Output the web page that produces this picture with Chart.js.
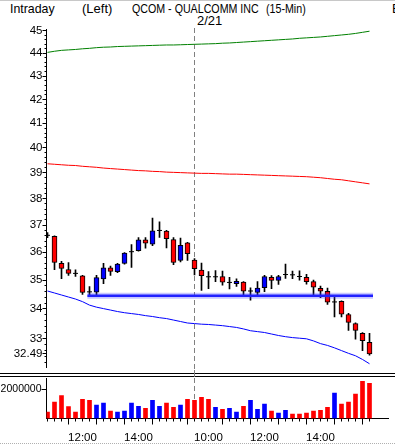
<!DOCTYPE html>
<html>
<head>
<meta charset="utf-8">
<script src="https://cdn.jsdelivr.net/npm/chart.js@4/dist/chart.umd.min.js"></script>
<style>
  body { margin: 0; background: #fff; width: 395px; height: 445px; overflow: hidden; position: relative;
         font-family: "Liberation Sans", sans-serif; }
  .txt { position: absolute; font-size: 13px; line-height: 15px; white-space: pre; color: #000; transform-origin: 0 0; }
  .sep { position: absolute; left: 0; width: 395px; border-top: 1px solid #000; }
  canvas { position: absolute; left: 0; }
</style>
</head>
<body>
<div class="sep" style="top:0;border-top-color:#c8c8c8"></div>
<div class="txt" style="left:10px;top:1px;transform:scaleX(0.95)">Intraday</div>
<div class="txt" style="left:82px;top:1px">(Left)</div>
<div class="txt" style="left:132px;top:1px;transform:scaleX(0.82)">QCOM - QUALCOMM INC</div>
<div class="txt" style="left:266px;top:1px;transform:scaleX(0.82)">(15-Min)</div>
<div class="txt" style="left:392px;top:1px">E</div>
<div class="txt" style="left:197px;top:13px">2/21</div>
<div class="sep" style="top:373px"></div>
<div class="sep" style="top:376px"></div>
<div class="sep" style="top:443px;border-top:1px dotted #b0b0b0"></div>
<canvas id="priceChart" width="395" height="380" style="top:0;width:395px;height:380px"></canvas>
<canvas id="volumeChart" width="395" height="75" style="top:370px;width:395px;height:75px"></canvas>
<script>
// 15 minute bars, 2/20 10:45 .. 2/21 15:45
const times = [
  '10:45', '11:00', '11:15', '11:30', '11:45', '12:00', '12:15', '12:30', '12:45', '13:00', '13:15',
  '13:30', '13:45', '14:00', '14:15', '14:30', '14:45', '15:00', '15:15', '15:30', '15:45',
  '9:30', '9:45', '10:00', '10:15', '10:30', '10:45', '11:00', '11:15', '11:30', '11:45', '12:00',
  '12:15', '12:30', '12:45', '13:00', '13:15', '13:30', '13:45', '14:00', '14:15', '14:30', '14:45',
  '15:00', '15:15', '15:30', '15:45'
];
const opens = [
  36.63, 36.58, 35.60, 35.38, 35.25, 35.15, 34.60, 34.58, 35.04, 35.44, 35.30, 35.60, 36.00, 36.06,
  36.45, 36.29, 36.79, 36.78, 36.46, 35.70, 36.34,
  35.72, 35.36, 35.13, 35.11, 35.13, 34.91, 34.88, 34.93, 34.61, 34.57, 34.74, 35.10, 34.99, 35.19,
  35.20, 35.14, 35.10, 34.95, 34.71, 34.61, 34.22, 34.26, 33.81, 33.50, 33.17, 32.87
];
const highs = [
  36.72, 36.60, 35.67, 35.63, 35.37, 35.17, 34.77, 35.17, 35.60, 35.50, 35.60, 35.99, 36.28, 36.54,
  36.54, 37.26, 37.12, 36.80, 36.54, 36.52, 36.36,
  35.77, 35.61, 35.30, 35.34, 35.32, 35.10, 35.05, 34.95, 34.73, 34.95, 35.17, 35.16, 35.17, 35.57,
  35.32, 35.33, 35.21, 35.00, 34.79, 34.72, 34.40, 34.28, 33.85, 33.53, 33.20, 33.17
];
const lows = [
  36.53, 35.37, 35.05, 35.17, 35.13, 34.50, 34.45, 34.48, 34.88, 35.17, 35.27, 35.57, 35.45, 36.04,
  36.15, 36.24, 36.54, 36.16, 35.55, 35.65, 35.70,
  35.19, 34.64, 34.70, 34.95, 34.82, 34.69, 34.78, 34.46, 34.30, 34.45, 34.60, 34.70, 34.85, 35.06,
  35.05, 35.00, 34.86, 34.48, 34.39, 34.15, 33.73, 33.73, 33.27, 32.98, 32.60, 32.45
];
const closes = [
  36.62, 35.63, 35.42, 35.24, 35.24, 34.57, 34.59, 35.09, 35.44, 35.31, 35.57, 35.97, 36.02, 36.45,
  36.33, 36.79, 36.80, 36.50, 35.63, 36.25, 35.95,
  35.41, 35.16, 35.12, 35.12, 34.93, 34.92, 34.96, 34.61, 34.62, 34.72, 35.13, 34.99, 35.13, 35.20,
  35.19, 35.13, 34.95, 34.75, 34.61, 34.23, 34.24, 33.82, 33.54, 33.27, 32.93, 32.49
];
const volumes = [
  440000, 1130000, 1590000, 830000, 440000, 1330000, 1260000, 920000, 1060000, 510000, 440000,
  510000, 1060000, 850000, 710000, 1260000, 850000, 1060000, 780000, 920000, 1330000,
  1260000, 1470000, 1330000, 780000, 640000, 710000, 440000, 850000, 1260000, 640000, 990000,
  510000, 370000, 570000, 300000, 300000, 370000, 510000, 570000, 780000, 1750000, 990000,
  1130000, 1680000, 2570000, 2440000
];
// green, red and blue study lines
const upperLine = [
  44.04, 44.09, 44.13, 44.15, 44.17, 44.20, 44.22, 44.25, 44.27, 44.28, 44.30, 44.31, 44.32, 44.33,
  44.34, 44.35, 44.36, 44.37, 44.37, 44.38, 44.39, 44.40, 44.41, 44.42, 44.43, 44.45, 44.46, 44.48,
  44.50, 44.52, 44.54, 44.56, 44.58, 44.60, 44.62, 44.64, 44.67, 44.69, 44.71, 44.73, 44.76, 44.79,
  44.82, 44.85, 44.89, 44.94, 44.99
];
const middleLine = [
  39.36, 39.34, 39.32, 39.30, 39.29, 39.26, 39.24, 39.22, 39.19, 39.17, 39.15, 39.13, 39.11, 39.09,
  39.08, 39.06, 39.05, 39.03, 39.02, 39.01, 39.00, 38.99, 38.98, 38.98, 38.97, 38.96, 38.95, 38.95,
  38.94, 38.93, 38.92, 38.91, 38.90, 38.89, 38.88, 38.87, 38.86, 38.85, 38.83, 38.81, 38.78, 38.75,
  38.73, 38.69, 38.65, 38.61, 38.57
];
const lowerLine = [
  34.62, 34.55, 34.48, 34.41, 34.34, 34.25, 34.13, 34.06, 34.01, 33.96, 33.91, 33.87, 33.84, 33.81,
  33.77, 33.74, 33.70, 33.67, 33.62, 33.57, 33.52, 33.50, 33.48, 33.47, 33.45, 33.43, 33.40, 33.37,
  33.32, 33.26, 33.23, 33.20, 33.15, 33.10, 33.06, 33.03, 33.01, 32.99, 32.92, 32.83, 32.77, 32.69,
  32.60, 32.51, 32.43, 32.31, 32.17
];
const priceTicks = [32.49, 33, 34, 35, 36, 37, 38, 39, 40, 41, 42, 43, 44, 45];
const volumeTicks = [2000000];
const timeTicks = ['12:00', '14:00', '10:00'];
const supportLevel = 34.45;   // horizontal line from the low of bar 7
const supportStart = 6;
const dayStart = 21;          // first bar of 2/21

const UP = '#0000ff';
const DOWN = '#ff0000';
// 7 px per bar, first bar 1 px right of the axis
const X_MIN = -1 / 7;
const X_MAX = (388 - 46.5) / 7 - 1 / 7;

Chart.defaults.font.family = '"Liberation Sans", sans-serif';
Chart.defaults.font.size = 11;
Chart.defaults.color = '#000';

const idx = times.map((_, i) => i);
const isDoji = i => Math.abs(closes[i] - opens[i]) < 0.025;
const isUp = i => closes[i] >= opens[i];

// dashed separator at the start of the second day
const dayLine = {
  id: 'dayLine',
  beforeDatasetsDraw(chart, args, opts) {
    const { ctx, scales: { x } } = chart;
    const px = Math.floor(x.getPixelForValue(dayStart)) + 0.5;
    ctx.save();
    ctx.strokeStyle = '#808080';
    ctx.lineWidth = 1;
    ctx.setLineDash([5, 3]);
    ctx.beginPath();
    ctx.moveTo(px, opts.top);
    ctx.lineTo(px, opts.bottom);
    ctx.stroke();
    ctx.restore();
  }
};

// short ticks between the labelled ones
const minorTicks = {
  id: 'minorTicks',
  afterDraw(chart, args, opts) {
    const { ctx } = chart;
    const s = chart.scales[opts.axis];
    ctx.save();
    ctx.strokeStyle = '#000';
    ctx.lineWidth = 1;
    ctx.beginPath();
    opts.values.forEach(v => {
      const p = Math.floor(s.getPixelForValue(v)) + 0.5;
      if (opts.axis === 'y') {
        ctx.moveTo(s.right - opts.length, p);
        ctx.lineTo(s.right, p);
      } else {
        ctx.moveTo(p, s.top);
        ctx.lineTo(p, s.top + opts.length);
      }
    });
    ctx.stroke();
    ctx.restore();
  }
};

const minorPrice = [];
for (let k = 161; k <= 225; k++) {
  if (k % 5 !== 0) minorPrice.push(k / 5);
}

const bodies = idx.filter(i => !isDoji(i)).map(i => ({ x: i, y: [opens[i], closes[i]] }));
const dojis = idx.filter(i => isDoji(i)).map(i => ({ x: i, y: closes[i] }));
const linePoints = arr => idx.map(i => ({ x: i, y: arr[i] }));

new Chart(document.getElementById('priceChart'), {
  type: 'bar',
  data: {
    datasets: [
      {
        type: 'bar',
        data: idx.map(i => ({ x: i, y: [lows[i], highs[i]] })),
        backgroundColor: '#000',
        barThickness: 1,
        grouped: false,
        order: 6
      },
      {
        type: 'bar',
        data: bodies,
        backgroundColor: ctx => (ctx.raw && ctx.raw.y[1] >= ctx.raw.y[0] ? UP : DOWN),
        borderColor: '#000',
        borderWidth: 1,
        borderSkipped: false,
        barThickness: 5,
        grouped: false,
        order: 5
      },
      {
        type: 'line',
        data: dojis,
        showLine: false,
        pointStyle: 'line',
        pointRadius: 2.5,
        pointHoverRadius: 2.5,
        pointBorderWidth: 1,
        pointBorderColor: '#000',
        order: 4
      },
      {
        type: 'line',
        data: linePoints(upperLine),
        borderColor: '#008000',
        borderWidth: 1,
        pointRadius: 0,
        order: 3
      },
      {
        type: 'line',
        data: linePoints(middleLine),
        borderColor: '#ff0000',
        borderWidth: 1,
        pointRadius: 0,
        order: 3
      },
      {
        type: 'line',
        data: linePoints(lowerLine),
        borderColor: '#0000ff',
        borderWidth: 1,
        pointRadius: 0,
        order: 3
      },
      {
        // soft halo of the support line
        type: 'line',
        data: [{ x: supportStart - 0.3, y: supportLevel }, { x: times.length - 0.5, y: supportLevel }],
        borderColor: 'rgba(70, 70, 255, 0.3)',
        borderWidth: 6,
        pointRadius: 0,
        order: 2
      },
      {
        type: 'line',
        data: [{ x: supportStart - 0.3, y: supportLevel }, { x: times.length - 0.5, y: supportLevel }],
        borderColor: '#2020ff',
        borderWidth: 2.5,
        pointRadius: 0,
        order: 1
      }
    ]
  },
  options: {
    responsive: false,
    animation: false,
    devicePixelRatio: 1,
    layout: { padding: { top: 29.5, bottom: 13, left: 0, right: 7 } },
    plugins: {
      legend: { display: false },
      tooltip: { enabled: false },
      dayLine: { top: 28, bottom: 380 },
      minorTicks: { axis: 'y', values: minorPrice, length: 2 }
    },
    scales: {
      x: { type: 'linear', display: false, min: X_MIN, max: X_MAX, offset: false, bounds: 'data' },
      y: {
        type: 'logarithmic',
        position: 'left',
        min: 32.065,
        max: 45.068,
        bounds: 'data',
        afterBuildTicks: s => { s.ticks = priceTicks.map(v => ({ value: v })); },
        afterFit: s => { s.width = 46.5; },
        ticks: { autoSkip: false, padding: 0, font: { size: 11.5 }, callback: v => String(v) },
        grid: { drawOnChartArea: false, tickLength: 4, color: '#000' },
        border: { color: '#000' }
      }
    }
  },
  plugins: [dayLine, minorTicks]
});

new Chart(document.getElementById('volumeChart'), {
  type: 'bar',
  data: {
    datasets: [{
      data: idx.map(i => ({ x: i, y: volumes[i] })),
      backgroundColor: ctx => (ctx.raw && isUp(ctx.raw.x) ? UP : DOWN),
      barThickness: 4,
      grouped: false
    }]
  },
  options: {
    responsive: false,
    animation: false,
    devicePixelRatio: 1,
    layout: { padding: { top: 8, bottom: 0, left: 0, right: 7 } },
    plugins: {
      legend: { display: false },
      tooltip: { enabled: false },
      dayLine: { top: 0, bottom: 48.5 },
      minorTicks: { axis: 'x', values: idx, length: 3 }
    },
    scales: {
      x: {
        type: 'linear',
        min: X_MIN,
        max: X_MAX,
        offset: false,
        bounds: 'data',
        afterBuildTicks: s => { s.ticks = idx.filter(i => times[i].endsWith(':00')).map(i => ({ value: i })); },
        afterFit: s => { s.height = 26.5; },
        ticks: { autoSkip: false, maxRotation: 0, padding: 6, font: { size: 11.5 }, callback: v => (timeTicks.includes(times[v]) ? times[v] : '') },
        grid: { drawOnChartArea: false, tickLength: 6, color: '#000' },
        border: { color: '#000' }
      },
      y: {
        min: 0,
        max: 2800000,
        bounds: 'data',
        afterBuildTicks: s => { s.ticks = volumeTicks.map(v => ({ value: v })); },
        afterFit: s => { s.width = 46.5; },
        ticks: { autoSkip: false, padding: 0, font: { size: 10.5 }, callback: v => String(v) },
        grid: { drawOnChartArea: false, tickLength: 5, color: '#000' },
        border: { color: '#000' }
      }
    }
  },
  plugins: [dayLine, minorTicks]
});
</script>
</body>
</html>
